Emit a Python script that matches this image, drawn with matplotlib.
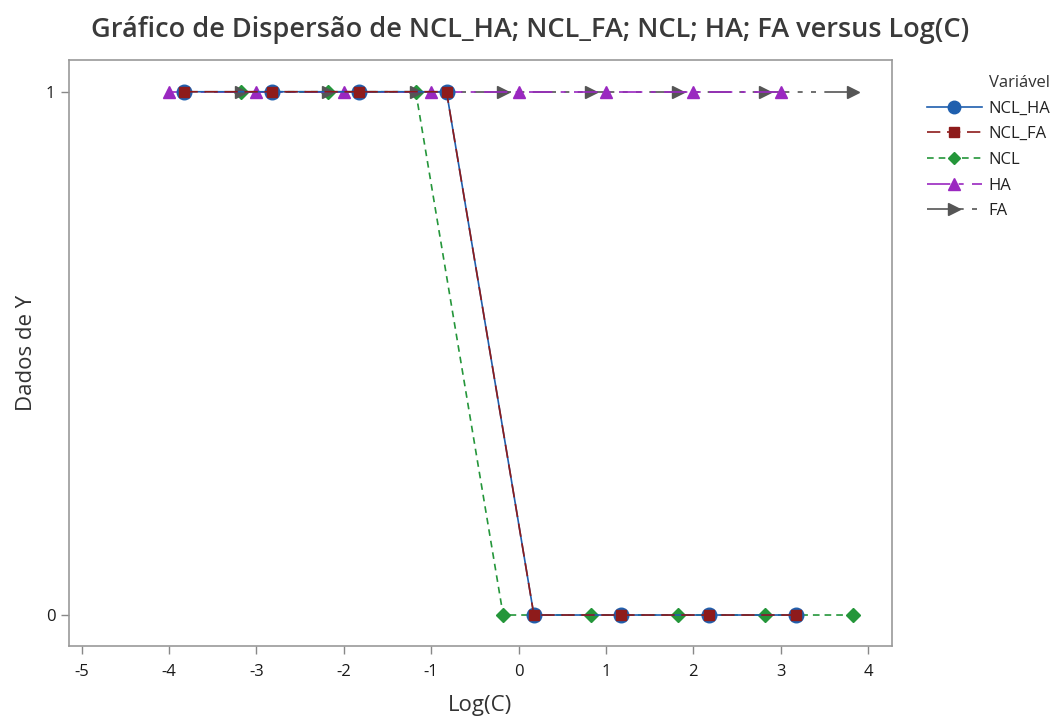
import matplotlib
matplotlib.use("Agg")
import matplotlib.pyplot as plt
from matplotlib.lines import Line2D

plt.rcParams['font.family'] = ['Open Sans', 'DejaVu Sans']
plt.rcParams['axes.unicode_minus'] = False

# Data
x_ncl_ha = [-3.824, -2.824, -1.824, -0.824, 0.176, 1.176, 2.176, 3.176]
y_ncl_ha = [1, 1, 1, 1, 0, 0, 0, 0]
x_ncl_fa = [-3.824, -2.824, -1.824, -0.824, 0.176, 1.176, 2.176, 3.176]
y_ncl_fa = [1, 1, 1, 1, 0, 0, 0, 0]
x_ncl = [-3.176, -2.176, -1.176, -0.176, 0.824, 1.824, 2.824, 3.824]
y_ncl = [1, 1, 1, 0, 0, 0, 0, 0]
x_ha = [-4, -3, -2, -1, 0, 1, 2, 3]
y_ha = [1, 1, 1, 1, 1, 1, 1, 1]
x_fa = [-3.176, -2.176, -1.176, -0.176, 0.824, 1.824, 2.824, 3.824]
y_fa = [1, 1, 1, 1, 1, 1, 1, 1]
xticks = [-5, -4, -3, -2, -1, 0, 1, 2, 3, 4]
yticks = [0, 1]

fig = plt.figure(figsize=(10.61, 7.19), dpi=100)
ax = fig.add_axes([0.0653, 0.1019, 0.7751, 0.8146])

c_blue = '#1F5FAE'
c_red = '#8E1B1B'
c_green = '#24963A'
c_purple = '#9A28C0'
c_gray = '#555555'

ls_red = (0, (8, 4))
ls_green = (0, (4, 3))
ls_purple = (0, (14, 5, 3, 5))
ls_gray = (0, (14, 5, 3, 5, 3, 5))

ax.plot(x_ncl, y_ncl, color=c_green, lw=1.2, ls=ls_green, marker='D', ms=7,
        mfc=c_green, mec=c_green, zorder=3)
ax.plot(x_fa, y_fa, color=c_gray, lw=1.2, ls=ls_gray, marker='>', ms=9,
        mfc=c_gray, mec=c_gray, zorder=4)
ax.plot(x_ha, y_ha, color=c_purple, lw=1.2, ls=ls_purple, marker='^', ms=9,
        mfc=c_purple, mec=c_purple, zorder=5)
ax.plot(x_ncl_ha, y_ncl_ha, color=c_blue, lw=1.2, ls='-', marker='o', ms=10.5,
        mfc=c_blue, mec=c_blue, zorder=6)
ax.plot(x_ncl_fa, y_ncl_fa, color=c_red, lw=1.2, ls=ls_red, marker='s', ms=7.5,
        mfc=c_red, mec=c_red, zorder=7)

ax.set_xlim(-5.142, 4.271)
ax.set_ylim(-0.0587, 1.0606)
ax.set_xticks(xticks)
ax.set_yticks(yticks)
ax.tick_params(colors='#888888', labelcolor='#1a1a1a', labelsize=12, length=6, width=1)
ax.tick_params(axis='x', pad=7)
ax.tick_params(axis='y', pad=4)
for s in ax.spines.values():
    s.set_color('#999999')
    s.set_linewidth(1.2)

ax.set_xlabel('Log(C)', fontsize=16, color='#333333', labelpad=11)
ax.set_ylabel('Dados de Y', fontsize=16, color='#333333', labelpad=6)
fig.text(0.5, 0.958, 'Gráfico de Dispersão de NCL_HA; NCL_FA; NCL; HA; FA versus Log(C)',
         ha='center', va='center', fontsize=19.5, color='#3a3a3a', fontweight='semibold')

handles = [
    Line2D([], [], color=c_blue, lw=1.2, ls='-', marker='o', ms=9, mfc=c_blue, mec=c_blue),
    Line2D([], [], color=c_red, lw=1.2, ls=ls_red, marker='s', ms=7, mfc=c_red, mec=c_red),
    Line2D([], [], color=c_green, lw=1.2, ls=ls_green, marker='D', ms=6.5, mfc=c_green, mec=c_green),
    Line2D([], [], color=c_purple, lw=1.2, ls=ls_purple, marker='^', ms=8, mfc=c_purple, mec=c_purple),
    Line2D([], [], color=c_gray, lw=1.2, ls=ls_gray, marker='>', ms=8, mfc=c_gray, mec=c_gray),
]
leg = fig.legend(handles, ['NCL_HA', 'NCL_FA', 'NCL', 'HA', 'FA'], title='Variável',
                 loc='upper left', bbox_to_anchor=(0.867, 0.905), frameon=False,
                 fontsize=12, title_fontsize=12, handlelength=3.3, labelspacing=0.58,
                 handletextpad=0.4, alignment='right', borderaxespad=0)
for t in leg.get_texts():
    t.set_color('#222222')
leg.get_title().set_color('#333333')

fig.savefig('out.png', dpi=100)
